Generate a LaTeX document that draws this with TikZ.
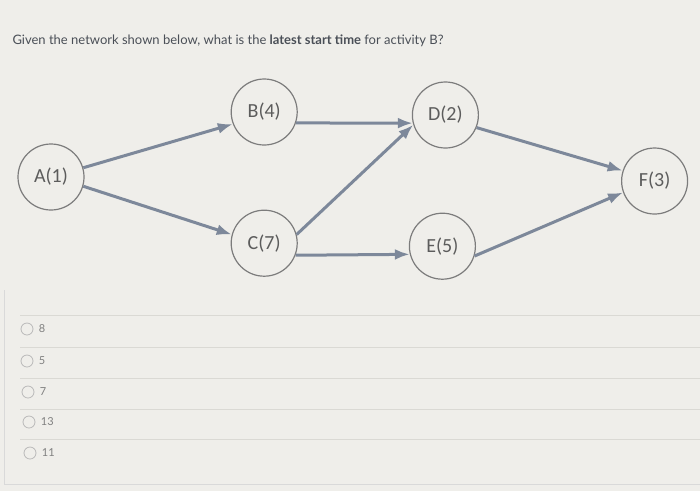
\documentclass[tikz,border=0pt]{standalone}
\usepackage{fontspec}
\setmainfont{Lato}
\newfontfamily\actfont{Carlito}
\usetikzlibrary{positioning,arrows.meta}
\definecolor{paper}{HTML}{EFEEEA}
\definecolor{edgecol}{HTML}{7D889A}
\definecolor{ringcol}{HTML}{7C7C7C}
\definecolor{labelcol}{HTML}{5C5C5C}
\definecolor{rulecol}{HTML}{DAD9D4}
\definecolor{qcol}{HTML}{4A4F57}

\begin{document}
\begin{tikzpicture}[
        x=1pt, y=-1pt,
        node distance=1cm,
        act/.style={circle, draw=ringcol, line width=1.2pt, minimum size=66pt, inner sep=0pt, text=labelcol, font=\actfont\fontsize{20}{24}\selectfont},
        arrow/.style={->, >={Latex[length=15pt,width=11pt]}, draw=edgecol, line width=3pt},
        radio/.style={circle, draw=gray!55, line width=0.8pt, minimum size=12pt, inner sep=0pt},
        choice/.style={text=gray, font=\fontsize{11}{13}\selectfont},
        sep/.style={draw=rulecol, line width=0.8pt}
    ]

    % Background and page
    \fill[paper] (0,0) rectangle (700,491);
    \useasboundingbox (0,0) rectangle (700,491);

    % Question
    \node[anchor=west, text=qcol, font=\fontsize{13}{15}\selectfont] (question) at (9,41) {Given the network shown below, what is the \textbf{latest start time} for activity B?};

    % Define nodes - first column
    \node[act] (A) at (51,177) {A(1)};

    % Second column
    \node[act] (B) [right=146pt of A, yshift=65pt] {B(4)};
    \node[act] (C) [below=64pt of B] {C(7)};

    % Third column
    \node[act] (D) [right=114pt of B, yshift=-3pt] {D(2)};
    \node[act] (E) [right=111pt of C, yshift=-3pt] {E(5)};

    % Fourth column
    \node[act] (F) [right=142pt of D, yshift=-66pt] {F(3)};

    % Define connections
    \draw[arrow] (A.16) -- (B.201);
    \draw[arrow] (A.-16) -- (C.165);

    \draw[arrow] (B.-19) -- (D.194);
    \draw[arrow] (C.15) -- (D.197);
    \draw[arrow] (C.-21) -- (E.194);

    \draw[arrow] (D.-22) -- (F.162);
    \draw[arrow] (E.-17) -- (F.200);

    % Answer choices
    \draw[sep] (20,315) -- (700,315);
    \node[radio] (r1) at (27,329) {};
    \node[choice] (o1) [right=2pt of r1] {8};
    \draw[sep] (20,347) -- (700,347);
    \node[radio] (r2) at (27,361) {};
    \node[choice] (o2) [right=2pt of r2] {5};
    \draw[sep] (20,378) -- (700,378);
    \node[radio] (r3) at (28,392) {};
    \node[choice] (o3) [right=2pt of r3] {7};
    \draw[sep] (20,409) -- (700,409);
    \node[radio] (r4) at (29,422) {};
    \node[choice] (o4) [right=2pt of r4] {13};
    \draw[sep] (20,439) -- (700,439);
    \node[radio] (r5) at (30,453) {};
    \node[choice] (o5) [right=2pt of r5] {11};

    % Frame
    \draw[draw=gray!30, line width=0.8pt] (4,290) -- (4,484) -- (700,484);

    \end{tikzpicture}
\end{document}
